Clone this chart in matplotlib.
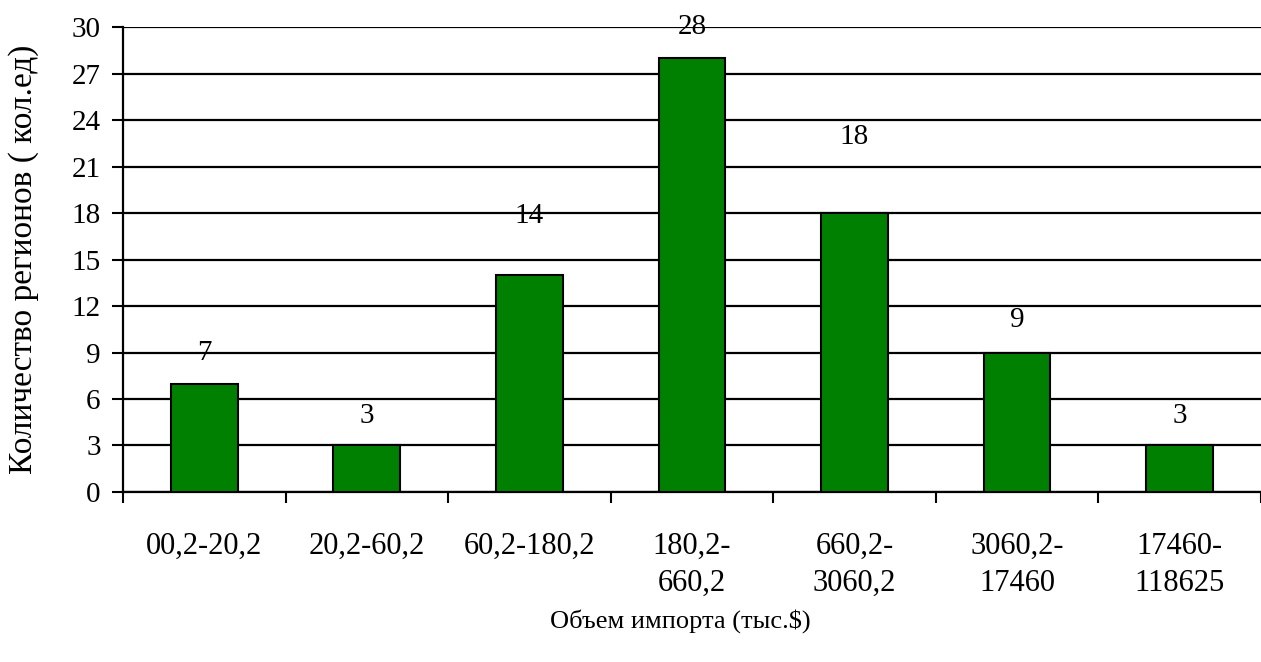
import numpy as np
import matplotlib.pyplot as plt

plt.rcParams['font.family'] = ['Liberation Serif', 'DejaVu Serif']

# данные
categories = ['00,2-20,2', '20,2-60,2', '60,2-180,2', '180,2-\n660,2',
              '660,2-\n3060,2', '3060,2-\n17460', '17460-\n118625']
counts = [7, 3, 14, 28, 18, 9, 3]
y_ticks = [0, 3, 6, 9, 12, 15, 18, 21, 24, 27, 30]

# смещение подписей над столбцами (как в исходнике)
label_offsets = [2.0, 1.9, 3.8, 2.0, 4.9, 2.1, 1.9]

fig = plt.figure(figsize=(12.61, 6.62), dpi=100)
ax = fig.add_axes([0.0975, 0.2568, 0.9025, 0.7024])

x = np.arange(len(categories))
ax.bar(x, counts, width=0.41, color='#008000', edgecolor='black', linewidth=1.5, zorder=3)

for xi, v, off in zip(x, counts, label_offsets):
    ax.text(xi, v + off, str(v), ha='center', va='center', fontsize=21, zorder=4)

ax.set_ylim(0, 30)
ax.set_xlim(-0.5, len(categories) - 0.5)
ax.set_yticks(y_ticks)
ax.yaxis.grid(True, color='black', linewidth=1.6, zorder=0)
ax.tick_params(axis='y', labelsize=21, length=8, width=1.5, direction='out', pad=8)

# деления между категориями, подписи по центру
ax.set_xticks(np.arange(-0.5, len(categories), 1.0))
ax.set_xticklabels([])
ax.set_xticks(x, minor=True)
ax.set_xticklabels(categories, minor=True, fontsize=22, linespacing=1.35)
ax.tick_params(axis='x', which='major', length=8, width=1.5, direction='out')
ax.tick_params(axis='x', which='minor', length=0, pad=29)

for s in ['top', 'right']:
    ax.spines[s].set_visible(False)
for s in ['left', 'bottom']:
    ax.spines[s].set_linewidth(1.6)

ax.set_xlabel('Объем импорта (тыс.$)', fontsize=19)
ax.xaxis.set_label_coords(0.49, -0.252)
ax.set_ylabel('Количество регионов ( кол.ед)', fontsize=24)
ax.yaxis.set_label_coords(-0.074, 0.5)

fig.savefig('out.png', dpi=100)
